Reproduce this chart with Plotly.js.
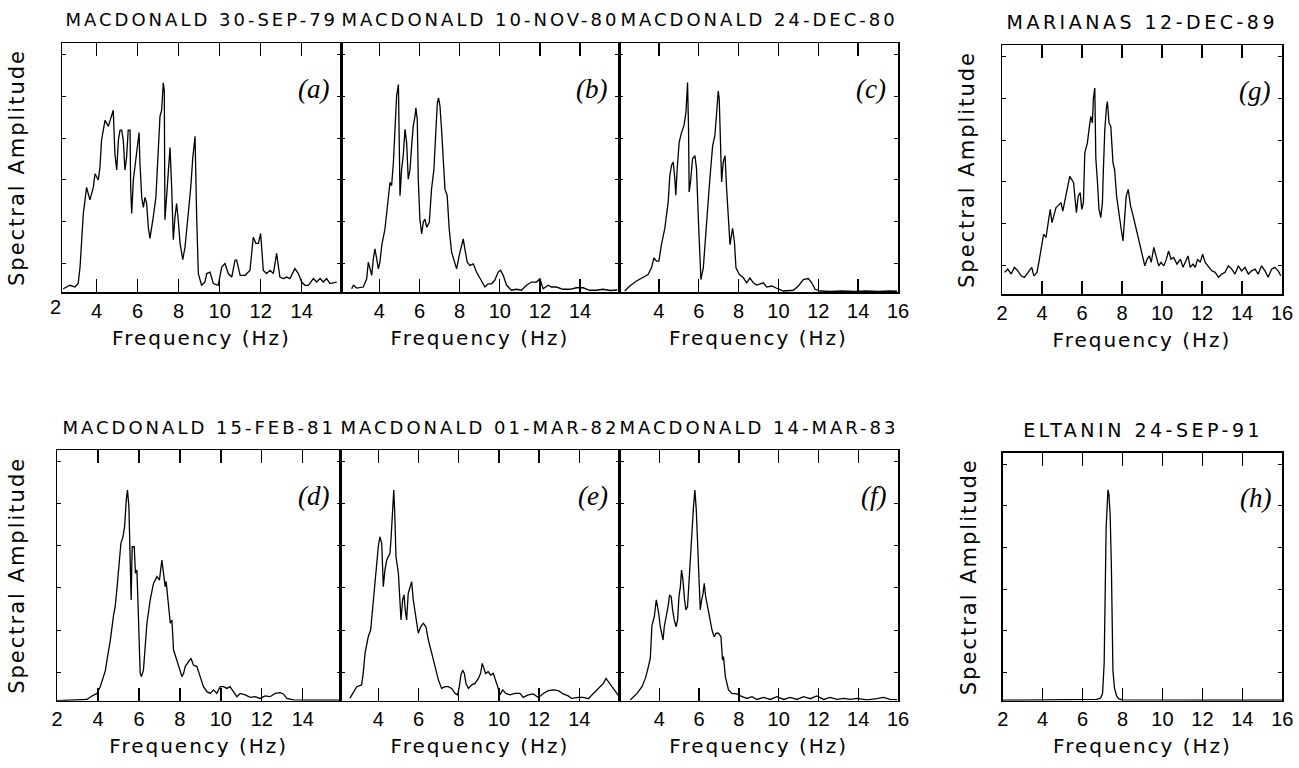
<!DOCTYPE html>
<html>
<head>
<meta charset="utf-8">
<script src="https://cdn.plot.ly/plotly-3.0.1.min.js"></script>
<style>
  body { margin: 0; background: #fff; }
  #chart { width: 1299px; height: 768px; }
  text[class$="title"] { letter-spacing: 2px; }
</style>
</head>
<body>
<div id="chart"></div>
<script>
// ---------------- DATA ----------------
const panelTitles = ['MACDONALD 30-SEP-79', 'MACDONALD 10-NOV-80', 'MACDONALD 24-DEC-80', 'MARIANAS 12-DEC-89',
                     'MACDONALD 15-FEB-81', 'MACDONALD 01-MAR-82', 'MACDONALD 14-MAR-83', 'ELTANIN 24-SEP-91'];
const panelLetters = ['(a)', '(b)', '(c)', '(g)', '(d)', '(e)', '(f)', '(h)'];
const xTitle = 'Frequency (Hz)';
const yTitle = 'Spectral Amplitude';

const ticksA = [4, 6, 8, 10, 12, 14];
const ticksB = [4, 6, 8, 10, 12, 14];
const ticksC = [4, 6, 8, 10, 12, 14, 16];
const ticksG = [2, 4, 6, 8, 10, 12, 14, 16];
const ticksD = [2, 4, 6, 8, 10, 12, 14];
const ticksE = [4, 6, 8, 10, 12, 14];
const ticksF = [4, 6, 8, 10, 12, 14, 16];
const ticksH = [2, 4, 6, 8, 10, 12, 14, 16];
const extraTickA = 2;   // label "2" drawn just left of panel (a)

const freqA = [2.37,2.7,2.94,3.1,3.19,3.27,3.35,3.51,3.67,3.84,
  3.92,4.08,4.16,4.24,4.41,4.57,4.73,4.81,4.89,4.98,
  5.06,5.14,5.22,5.3,5.38,5.46,5.54,5.63,5.66,5.71,
  5.79,5.95,6.07,6.11,6.2,6.28,6.36,6.44,6.52,6.6,
  6.68,6.76,6.89,7.0,7.09,7.17,7.25,7.3,7.33,7.41,
  7.49,7.58,7.66,7.74,7.82,7.9,7.98,8.07,8.2,8.31,
  8.47,8.59,8.69,8.8,8.88,8.96,9.12,9.28,9.37,9.53,
  9.69,9.93,10.1,10.26,10.42,10.59,10.75,10.83,11.0,11.24,
  11.48,11.64,11.77,11.89,12.0,12.13,12.29,12.46,12.62,12.78,
  12.94,13.11,13.27,13.43,13.67,13.84,14.0,14.16,14.33,14.57,
  14.73,14.9,15.06,15.22,15.38,15.71];
const ampA = [0.013,0.027,0.02,0.034,0.10,0.195,0.315,0.42,0.37,0.42,
  0.475,0.45,0.50,0.61,0.69,0.665,0.705,0.73,0.555,0.49,
  0.61,0.65,0.65,0.61,0.49,0.54,0.65,0.65,0.42,0.315,
  0.45,0.555,0.64,0.52,0.38,0.34,0.38,0.355,0.26,0.215,
  0.25,0.30,0.38,0.58,0.705,0.73,0.84,0.81,0.29,0.38,
  0.46,0.58,0.42,0.21,0.30,0.355,0.29,0.195,0.13,0.18,
  0.315,0.42,0.54,0.625,0.30,0.074,0.027,0.04,0.074,0.08,
  0.034,0.027,0.10,0.114,0.074,0.06,0.128,0.128,0.067,0.067,
  0.087,0.22,0.195,0.195,0.235,0.087,0.074,0.087,0.074,0.155,
  0.06,0.054,0.06,0.054,0.094,0.074,0.04,0.027,0.027,0.054,
  0.04,0.054,0.04,0.054,0.034,0.04];

const freqB = [2.62,2.71,2.87,3.2,3.37,3.45,3.54,3.62,3.7,3.78,
  3.87,3.95,4.03,4.12,4.28,4.45,4.53,4.61,4.7,4.78,
  4.86,4.95,4.98,5.03,5.11,5.19,5.28,5.36,5.44,5.53,
  5.61,5.69,5.78,5.82,5.89,5.94,6.02,6.11,6.19,6.27,
  6.36,6.49,6.6,6.72,6.82,6.89,6.95,7.02,7.1,7.18,
  7.27,7.38,7.48,7.6,7.71,7.85,7.98,8.1,8.18,8.26,
  8.38,8.51,8.68,8.84,9.09,9.26,9.42,9.59,9.75,9.92,
  10.04,10.17,10.34,10.58,10.83,11.08,11.33,11.58,11.83,12.0,
  12.16,12.41,12.57,12.82,13.15,13.49,13.82,14.15,14.48,14.81,
  15.14,15.5,15.85];
const ampB = [0.013,0.027,0.016,0.02,0.053,0.12,0.093,0.067,0.133,0.173,
  0.133,0.093,0.12,0.187,0.253,0.387,0.44,0.427,0.52,0.653,
  0.787,0.833,0.653,0.387,0.493,0.547,0.653,0.6,0.453,0.493,
  0.587,0.667,0.707,0.74,0.693,0.453,0.293,0.233,0.28,0.293,
  0.26,0.28,0.413,0.493,0.653,0.76,0.78,0.747,0.653,0.52,
  0.413,0.387,0.253,0.16,0.133,0.093,0.147,0.187,0.213,0.173,
  0.12,0.107,0.113,0.08,0.047,0.02,0.033,0.033,0.047,0.08,
  0.087,0.067,0.027,0.007,0.011,0.007,0.027,0.04,0.04,0.053,
  0.013,0.027,0.02,0.02,0.011,0.011,0.017,0.017,0.007,0.007,
  0.011,0.006,0.008];

const freqC = [2.29,2.54,2.88,3.21,3.46,3.63,3.75,3.88,4.0,4.13,
  4.3,4.47,4.55,4.64,4.72,4.8,4.85,4.92,5.02,5.14,
  5.26,5.36,5.44,5.49,5.52,5.59,5.69,5.81,5.89,5.98,
  6.06,6.11,6.23,6.31,6.43,6.56,6.7,6.81,6.9,6.98,
  7.03,7.1,7.15,7.23,7.32,7.4,7.48,7.57,7.7,7.79,
  7.87,8.04,8.24,8.41,8.57,8.74,8.91,9.08,9.24,9.41,
  9.66,9.91,10.25,10.75,11.0,11.25,11.5,11.67,11.84,12.09,
  12.59,13.2,13.8,14.4,15.0,15.6,15.95];
const ampC = [0.004,0.024,0.044,0.057,0.07,0.097,0.137,0.124,0.124,0.19,
  0.256,0.363,0.469,0.509,0.522,0.456,0.389,0.495,0.602,0.641,
  0.668,0.721,0.841,0.655,0.402,0.442,0.535,0.548,0.495,0.296,
  0.15,0.05,0.097,0.19,0.296,0.456,0.588,0.628,0.721,0.807,
  0.774,0.588,0.442,0.522,0.548,0.416,0.31,0.19,0.256,0.203,
  0.097,0.07,0.057,0.037,0.057,0.037,0.028,0.033,0.037,0.02,
  0.024,0.015,0.004,0.007,0.024,0.05,0.054,0.037,0.011,0.004,
  0.002,0.004,0.002,0.004,0.002,0.004,0.003];

const freqG = [2.13,2.29,2.46,2.62,2.79,2.96,3.12,3.32,3.49,3.59,
  3.75,3.87,3.98,4.08,4.2,4.32,4.41,4.5,4.58,4.7,
  4.78,4.95,5.04,5.16,5.28,5.39,5.48,5.58,5.64,5.72,
  5.81,5.91,5.99,6.07,6.14,6.27,6.35,6.44,6.52,6.57,
  6.64,6.69,6.77,6.85,6.94,7.02,7.07,7.14,7.22,7.27,
  7.35,7.44,7.55,7.63,7.73,7.85,7.96,8.05,8.13,8.21,
  8.31,8.43,8.56,8.68,8.79,8.93,9.06,9.14,9.26,9.37,
  9.46,9.59,9.7,9.84,9.95,10.09,10.22,10.33,10.45,10.58,
  10.75,10.92,11.05,11.16,11.3,11.41,11.55,11.66,11.78,11.91,
  12.03,12.16,12.33,12.49,12.66,12.82,12.99,13.15,13.32,13.49,
  13.65,13.82,13.98,14.15,14.32,14.48,14.65,14.81,14.98,15.15,
  15.31,15.48,15.64,15.81,15.94];
const ampG = [0.087,0.1,0.08,0.107,0.093,0.073,0.067,0.087,0.107,0.073,
  0.087,0.14,0.193,0.24,0.227,0.287,0.34,0.287,0.313,0.347,
  0.353,0.367,0.333,0.38,0.42,0.473,0.46,0.447,0.393,0.327,
  0.393,0.407,0.34,0.367,0.567,0.607,0.66,0.713,0.687,0.787,
  0.827,0.547,0.453,0.34,0.307,0.367,0.5,0.66,0.747,0.773,
  0.687,0.673,0.527,0.5,0.393,0.313,0.26,0.213,0.3,0.393,
  0.42,0.353,0.313,0.273,0.233,0.193,0.14,0.113,0.14,0.153,
  0.127,0.187,0.153,0.113,0.127,0.113,0.14,0.173,0.14,0.147,
  0.12,0.14,0.107,0.127,0.153,0.107,0.12,0.107,0.14,0.127,
  0.16,0.127,0.107,0.093,0.087,0.067,0.08,0.087,0.113,0.1,
  0.08,0.113,0.093,0.107,0.08,0.093,0.1,0.08,0.113,0.093,
  0.067,0.1,0.107,0.093,0.073];

const freqD = [2.0,2.8,3.46,3.71,3.95,4.11,4.27,4.36,4.44,4.6,
  4.76,4.84,4.93,5.0,5.12,5.22,5.3,5.38,5.44,5.51,
  5.58,5.62,5.67,5.77,5.83,5.9,5.95,6.0,6.06,6.12,
  6.22,6.39,6.55,6.71,6.88,7.0,7.12,7.2,7.28,7.33,
  7.44,7.53,7.61,7.69,7.77,7.93,8.1,8.18,8.26,8.42,
  8.54,8.66,8.83,8.99,9.15,9.32,9.48,9.64,9.8,9.97,
  10.13,10.29,10.45,10.61,10.78,10.94,11.19,11.43,11.67,11.92,
  12.16,12.4,12.65,12.89,13.05,13.22,13.54,14.2,15.0,15.8];
const ampD = [0.0,0.002,0.005,0.019,0.029,0.056,0.096,0.12,0.162,0.24,
  0.34,0.375,0.45,0.508,0.628,0.654,0.694,0.8,0.84,0.774,
  0.508,0.402,0.614,0.614,0.508,0.521,0.402,0.269,0.11,0.096,
  0.122,0.309,0.402,0.468,0.495,0.481,0.561,0.508,0.455,0.475,
  0.375,0.309,0.322,0.202,0.182,0.136,0.096,0.109,0.136,0.156,
  0.169,0.142,0.136,0.096,0.056,0.036,0.029,0.043,0.029,0.056,
  0.056,0.049,0.056,0.036,0.016,0.029,0.023,0.013,0.016,0.009,
  0.019,0.016,0.029,0.032,0.027,0.009,0.003,0.002,0.003,0.002];

const freqE = [2.59,2.76,2.93,3.17,3.25,3.34,3.5,3.62,3.75,3.87,
  3.92,4.0,4.08,4.17,4.25,4.33,4.42,4.5,4.58,4.63,
  4.7,4.77,4.82,4.88,5.0,5.08,5.13,5.21,5.28,5.34,
  5.41,5.49,5.58,5.66,5.74,5.88,5.99,6.11,6.24,6.37,
  6.49,6.66,6.82,6.99,7.15,7.32,7.48,7.65,7.82,7.95,
  8.03,8.11,8.2,8.28,8.36,8.48,8.65,8.81,8.98,9.09,
  9.17,9.26,9.34,9.47,9.59,9.72,9.84,9.94,10.05,10.19,
  10.35,10.55,10.8,11.05,11.21,11.46,11.71,11.96,12.21,12.46,
  12.71,12.96,13.2,13.45,13.62,13.95,14.2,14.45,14.7,14.87,
  15.07,15.2,15.33,15.44,15.61,15.78,15.95];
const ampE = [0.01,0.036,0.056,0.063,0.109,0.189,0.255,0.282,0.402,0.508,
  0.535,0.614,0.654,0.628,0.455,0.521,0.561,0.575,0.588,0.641,
  0.761,0.84,0.747,0.575,0.508,0.375,0.322,0.402,0.422,0.362,
  0.322,0.428,0.455,0.475,0.402,0.335,0.269,0.295,0.309,0.295,
  0.242,0.189,0.136,0.083,0.049,0.056,0.056,0.049,0.029,0.023,
  0.056,0.102,0.122,0.109,0.069,0.049,0.063,0.069,0.089,0.109,
  0.149,0.129,0.109,0.116,0.102,0.109,0.083,0.056,0.023,0.043,
  0.029,0.023,0.029,0.029,0.013,0.023,0.027,0.013,0.029,0.04,
  0.043,0.04,0.027,0.019,0.009,0.013,0.013,0.008,0.029,0.043,
  0.056,0.069,0.089,0.076,0.056,0.036,0.02];

const freqF = [2.54,2.88,3.13,3.3,3.41,3.55,3.63,3.75,3.85,3.97,
  4.05,4.19,4.25,4.35,4.44,4.52,4.6,4.67,4.75,4.85,
  4.92,4.99,5.06,5.12,5.19,5.27,5.34,5.42,5.49,5.56,
  5.64,5.72,5.79,5.86,5.92,5.99,6.06,6.13,6.2,6.26,
  6.33,6.43,6.53,6.65,6.76,6.86,6.98,7.1,7.18,7.23,
  7.32,7.48,7.65,7.9,8.16,8.41,8.66,8.91,9.24,9.58,
  9.91,10.25,10.58,10.92,11.25,11.59,11.92,12.26,12.59,12.93,
  13.26,13.6,13.93,14.44,14.94,15.27,15.6,15.95];
const ampF = [0.003,0.029,0.056,0.089,0.122,0.17,0.3,0.335,0.402,0.349,
  0.295,0.242,0.295,0.335,0.375,0.422,0.415,0.362,0.322,0.295,
  0.322,0.415,0.455,0.521,0.481,0.402,0.362,0.375,0.455,0.575,
  0.668,0.774,0.84,0.761,0.641,0.455,0.362,0.402,0.428,0.468,
  0.415,0.375,0.335,0.282,0.255,0.269,0.269,0.255,0.162,0.176,
  0.096,0.043,0.029,0.027,0.016,0.009,0.016,0.005,0.013,0.005,
  0.016,0.005,0.013,0.005,0.016,0.008,0.019,0.005,0.013,0.005,
  0.009,0.005,0.009,0.003,0.008,0.013,0.005,0.004];

const freqH = [2.0,4.0,6.0,6.7,6.9,7.0,7.08,7.13,7.18,7.24,
  7.27,7.32,7.38,7.44,7.48,7.52,7.6,7.7,7.8,8.0,
  12.0,16.0];
const ampH = [0.002,0.003,0.003,0.005,0.01,0.03,0.15,0.45,0.7,0.8,
  0.85,0.83,0.75,0.55,0.3,0.12,0.05,0.02,0.008,0.003,
  0.002,0.002];

// ---------------- LAYOUT (positions in px) ----------------
const W = 1299, H = 768;
const panels = [
  {x: freqA, y: ampA, ticks: ticksA, px: [62, 341],   py: [43, 292],  range: [2.31, 15.92], ytitle: true,  ytStand: 30, tsize: 18, tsp: 3},
  {x: freqB, y: ampB, ticks: ticksB, px: [341, 619],  py: [43, 292],  range: [2.09, 15.94], ytitle: false, tsize: 18, tsp: 3},
  {x: freqC, y: ampC, ticks: ticksC, px: [619, 898],  py: [43, 292],  range: [2.0, 16.0],   ytitle: false, tsize: 18, tsp: 3},
  {x: freqG, y: ampG, ticks: ticksG, px: [1002, 1282],py: [45, 294],  range: [2.0, 16.0],   ytitle: true,  ytStand: 20, tsize: 19, tsp: 3.5},
  {x: freqD, y: ampD, ticks: ticksD, px: [57, 340.5], py: [450, 700.7],range: [2.0, 15.84], ytitle: true,  ytStand: 25, tsize: 18, tsp: 3},
  {x: freqE, y: ampE, ticks: ticksE, px: [340.5, 619.5], py: [450, 700.7], range: [2.12, 16.0], ytitle: false, tsize: 18, tsp: 3},
  {x: freqF, y: ampF, ticks: ticksF, px: [619.5, 898], py: [450, 700.7], range: [2.0, 16.0], ytitle: false, tsize: 18, tsp: 3},
  {x: freqH, y: ampH, ticks: ticksH, px: [1002.7, 1282.3], py: [452.7, 700.7], range: [2.0, 16.0], ytitle: true, ytStand: 19, tsize: 19, tsp: 3.5}
];

const SANS = 'DejaVu Sans, sans-serif';
const TICKF = 'Liberation Sans, Arial, sans-serif';
const traces = [];
const layout = {
  width: W, height: H, margin: {l: 0, r: 0, t: 0, b: 0},
  paper_bgcolor: '#fff', plot_bgcolor: '#fff', showlegend: false,
  annotations: []
};
const labelAnns = [];
let css = '';

panels.forEach((p, i) => {
  const n = i === 0 ? '' : String(i + 1);
  traces.push({
    type: 'scatter', mode: 'lines', x: p.x, y: p.y,
    xaxis: 'x' + n, yaxis: 'y' + n,
    line: {color: '#000', width: 1.3}, hoverinfo: 'skip'
  });
  const xd = [p.px[0] / W, p.px[1] / W];
  const yd = [1 - p.py[1] / H, 1 - p.py[0] / H];
  layout['xaxis' + n] = {
    domain: xd, range: p.range, anchor: 'y' + n,
    tickmode: 'array', tickvals: p.ticks, ticktext: p.ticks.map(String),
    ticks: 'inside', ticklen: 13, tickwidth: 1.3, tickcolor: '#000',
    showline: true, linecolor: '#000', linewidth: 1.5, mirror: 'ticks',
    showgrid: false, zeroline: false,
    tickfont: {family: TICKF, size: 20, color: '#000'},
    title: {text: xTitle, font: {family: SANS, size: 20, color: '#000'}, standoff: 10}
  };
  const ya = {
    domain: yd, range: [0, 1], anchor: 'x' + n,
    showticklabels: false, tickmode: 'linear', tick0: 0.114, dtick: 0.168,
    ticks: 'inside', ticklen: 4, tickwidth: 1, tickcolor: '#000',
    showline: true, linecolor: '#000', linewidth: 1.5, mirror: 'ticks',
    showgrid: false, zeroline: false
  };
  if (p.ytitle) ya.title = {text: yTitle, font: {family: SANS, size: 21, color: '#000'}, standoff: p.ytStand};
  layout['yaxis' + n] = ya;

  // panel title (annotation index i)
  layout.annotations.push({
    text: panelTitles[i], xref: 'paper', yref: 'paper',
    x: (xd[0] + xd[1]) / 2, y: 1 - (p.py[0] - 23) / H,
    xanchor: 'center', yanchor: 'middle', showarrow: false,
    font: {family: SANS, size: p.tsize, color: '#000'}
  });
  css += `g.annotation[data-index="${i}"] text{letter-spacing:${p.tsp}px}\n`;
  // panel letter
  labelAnns.push({
    text: '<i>' + panelLetters[i] + '</i>', xref: 'x' + n + ' domain', yref: 'y' + n + ' domain',
    x: 0.965, y: 0.885, xanchor: 'right', yanchor: 'top', showarrow: false,
    font: {family: 'Liberation Serif, Times New Roman, serif', size: 27, color: '#000'}
  });
});
layout.annotations = layout.annotations.concat(labelAnns);

// extra "2" label for panel (a), whose axis starts just right of 2
{
  const p = panels[0];
  const pxA = p.px[0] + (extraTickA - p.range[0]) / (p.range[1] - p.range[0]) * (p.px[1] - p.px[0]);
  layout.annotations.push({
    text: String(extraTickA), xref: 'paper', yref: 'paper',
    x: pxA / W, y: 1 - p.py[1] / H, xanchor: 'center', yanchor: 'top', yshift: -2,
    showarrow: false, font: {family: TICKF, size: 20, color: '#000'}
  });
}

const st = document.createElement('style');
st.textContent = css;
document.head.appendChild(st);

Plotly.newPlot('chart', traces, layout, {staticPlot: true, displayModeBar: false});
</script>
</body>
</html>
